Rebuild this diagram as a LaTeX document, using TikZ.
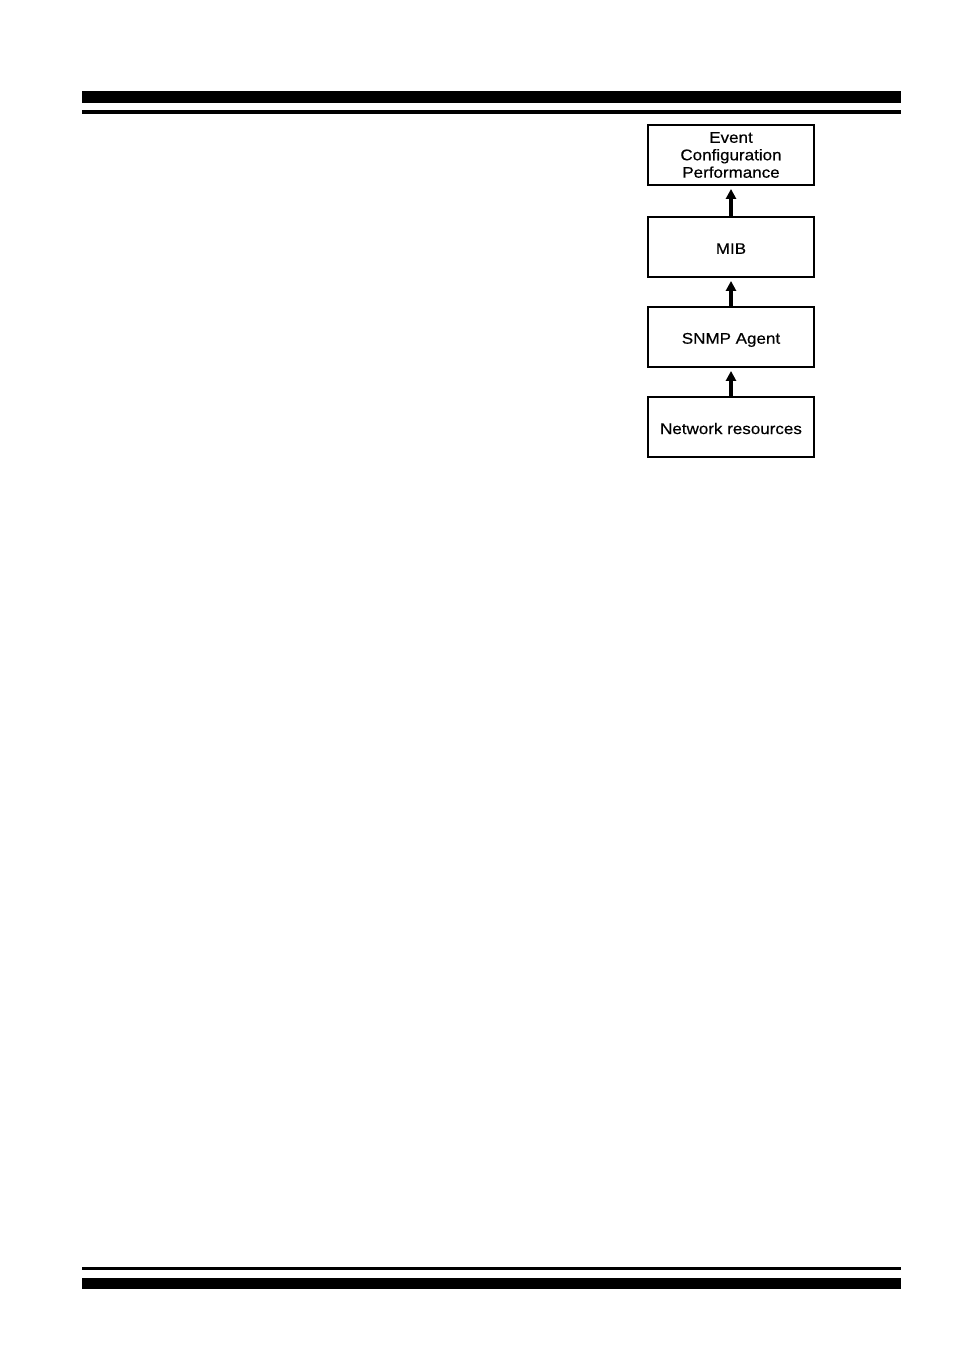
\documentclass[tikz,border=0pt]{standalone}
\usepackage{fontspec}
\setmainfont{Liberation Sans}
\newfontfamily\boxfont[FakeStretch=1.1,FakeBold=0.4]{Liberation Sans}
\usetikzlibrary{arrows.meta}
\newcommand{\lowtext}[2]{\raisebox{-#1}[\height][\depth]{#2}}
\begin{document}
\begin{tikzpicture}[x=0.75pt,y=-0.75pt,
  layerbox/.style={draw,line width=1.5pt,minimum width=124.5pt,minimum height=45pt,
    inner sep=0pt,align=center,font=\boxfont\fontsize{11.6pt}{13.1pt}\selectfont},
  uparrow/.style={line width=2.3pt,-{Triangle[width=7.5pt,length=7.5pt]},shorten >=2.2pt},
  bar/.style={fill=black}]
\useasboundingbox (0,0) rectangle (954,1354);
\fill[bar] (82,91) rectangle (901,103);
\fill[bar] (82,110) rectangle (901,114);
\fill[bar] (82,1267) rectangle (901,1270);
\fill[bar] (82,1278) rectangle (901,1289);
\node[layerbox] (evt) at (731,155) {Event\\Configuration\\Performance};
\node[layerbox] (mib) at (731,247) {\lowtext{1.2pt}{MIB}};
\node[layerbox] (agent) at (731,337) {\lowtext{2.2pt}{SNMP Agent}};
\node[layerbox] (net) at (731,426.5) {\lowtext{1.5pt}{Network resources}};
\draw[uparrow] (mib.north) -- (evt.south);
\draw[uparrow] (agent.north) -- (mib.south);
\draw[uparrow] (net.north) -- (agent.south);
\end{tikzpicture}
\end{document}
